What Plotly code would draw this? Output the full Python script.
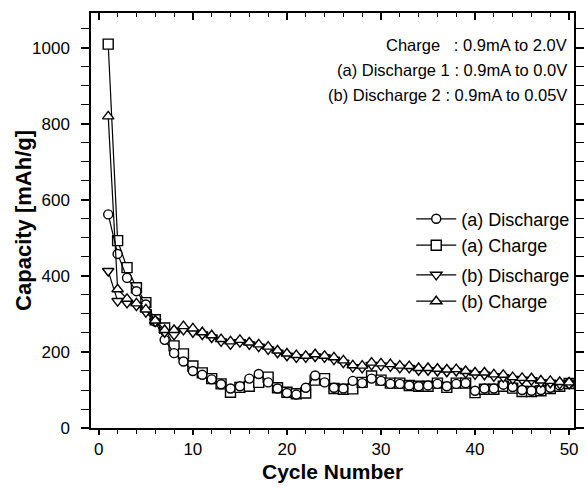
import plotly.graph_objects as go

cycles = list(range(1, 51))

a_charge = [1010, 493, 422, 369, 330, 285, 263, 216, 195, 163,
            145, 130, 116, 94, 107, 110, 120, 134, 106, 94,
            90, 92, 126, 130, 104, 102, 103, 120, 137, 126,
            118, 118, 112, 110, 110, 118, 107, 118, 118, 93,
            102, 102, 110, 105, 96, 96, 98, 104, 110, 117]

a_discharge = [562, 458, 395, 360, 325, 280, 232, 197, 175, 150,
               140, 128, 115, 104, 110, 130, 142, 120, 104, 92,
               88, 106, 138, 120, 106, 104, 124, 118, 130, 124,
               116, 116, 112, 110, 112, 116, 110, 116, 118, 98,
               104, 104, 114, 108, 100, 98, 100, 106, 112, 118]

b_charge = [820, 365, 340, 328, 312, 283, 258, 258, 268, 262,
            252, 244, 234, 228, 232, 225, 220, 214, 204, 196,
            192, 190, 194, 190, 186, 178, 165, 164, 172, 170,
            168, 164, 163, 158, 158, 156, 154, 155, 150, 146,
            146, 141, 140, 134, 132, 131, 125, 124, 121, 120]

b_discharge = [413, 334, 329, 322, 305, 280, 252, 245, 258, 252,
               246, 238, 228, 220, 226, 220, 214, 207, 198, 190,
               186, 186, 188, 186, 180, 172, 160, 158, 166, 164,
               162, 158, 158, 152, 152, 150, 148, 150, 145, 141,
               140, 136, 134, 129, 127, 126, 120, 119, 116, 116]

annot_lines = ["Charge   : 0.9mA to 2.0V",
               "(a) Discharge 1 : 0.9mA to 0.0V",
               "(b) Discharge 2 : 0.9mA to 0.05V"]

x_title = "Cycle Number"
y_title = "Capacity [mAh/g]"

FONT = "Liberation Sans, Arial, Helvetica, sans-serif"

def series(y, name, symbol, legend, size=9):
    return go.Scatter(
        x=cycles, y=y, name=name, mode="lines+markers",
        line=dict(color="black", width=1.2),
        marker=dict(symbol=symbol, size=size, color="white",
                    line=dict(color="black", width=1.4)),
        legend=legend,
    )

fig = go.Figure()
fig.add_trace(series(a_charge, "(a) Charge", "square", "legend", 10))
fig.add_trace(series(a_discharge, "(a) Discharge", "circle", "legend", 9))
fig.add_trace(series(b_discharge, "(b) Discharge", "triangle-down", "legend2", 10))
fig.add_trace(series(b_charge, "(b) Charge", "triangle-up", "legend2", 10))
# invisible trace to show the top axis
fig.add_trace(go.Scatter(x=[], y=[], xaxis="x2", showlegend=False))

xr = [-0.83, 50.52]
fig.update_layout(
    width=587, height=489,
    margin=dict(l=91, r=3, t=13, b=61),
    paper_bgcolor="white", plot_bgcolor="white",
    font=dict(family=FONT, color="black", size=17),
    xaxis=dict(range=xr, tickmode="array", tickvals=[0, 10, 20, 30, 40, 50],
               ticks="outside", ticklen=5, tickwidth=1.5, tickcolor="black",
               minor=dict(dtick=2, tick0=0, ticks="outside", ticklen=4, tickcolor="black", tickwidth=1.2),
               showline=True, linecolor="black", linewidth=1.5, mirror=True,
               showgrid=False, zeroline=False,
               tickfont=dict(size=17)),
    xaxis2=dict(range=xr, overlaying="x", side="top", showticklabels=False,
                tickmode="array", tickvals=[0, 10, 20, 30, 40, 50],
                ticks="inside", ticklen=7, tickwidth=1.5, tickcolor="black",
                minor=dict(dtick=2, tick0=0, ticks="inside", ticklen=4, tickcolor="black", tickwidth=1.2),
                showgrid=False, zeroline=False, showline=False),
    yaxis=dict(range=[0, 1092], tickmode="array", tickvals=[0, 200, 400, 600, 800, 1000],
               ticks="outside", ticklen=8, tickwidth=1.5, tickcolor="black",
               minor=dict(dtick=50, tick0=0, ticks="outside", ticklen=4, tickcolor="black", tickwidth=1.2),
               showline=True, linecolor="black", linewidth=1.5, mirror="allticks",
               showgrid=False, zeroline=False, ticklabelstandoff=8,
               tickfont=dict(size=17)),
    legend=dict(x=0.663, y=0.548, xanchor="left", yanchor="top",
                traceorder="reversed", bgcolor="rgba(0,0,0,0)",
                font=dict(size=18), itemwidth=40, tracegroupgap=0),
    legend2=dict(x=0.663, y=0.413, xanchor="left", yanchor="top",
                 traceorder="normal", bgcolor="rgba(0,0,0,0)",
                 font=dict(size=18), itemwidth=40, tracegroupgap=0),
    showlegend=True,
)

# axis titles placed as text annotations
fig.add_annotation(text="<b>%s</b>" % x_title, x=0.5, y=-0.104, xref="paper", yref="paper",
                   xanchor="center", yanchor="middle", showarrow=False,
                   font=dict(size=21, family=FONT))
fig.add_annotation(text="<b>%s</b>" % y_title, x=-0.14, y=0.5, xref="paper", yref="paper",
                   xanchor="center", yanchor="middle", showarrow=False, textangle=-90,
                   font=dict(size=22, family=FONT))

ys = [0.923, 0.863, 0.802]
for txt, yy in zip(annot_lines, ys):
    fig.add_annotation(text=txt, x=0.99, y=yy, xref="paper", yref="paper",
                       xanchor="right", yanchor="middle", showarrow=False,
                       font=dict(size=16.5, family=FONT))

fig.write_html("out.html")
